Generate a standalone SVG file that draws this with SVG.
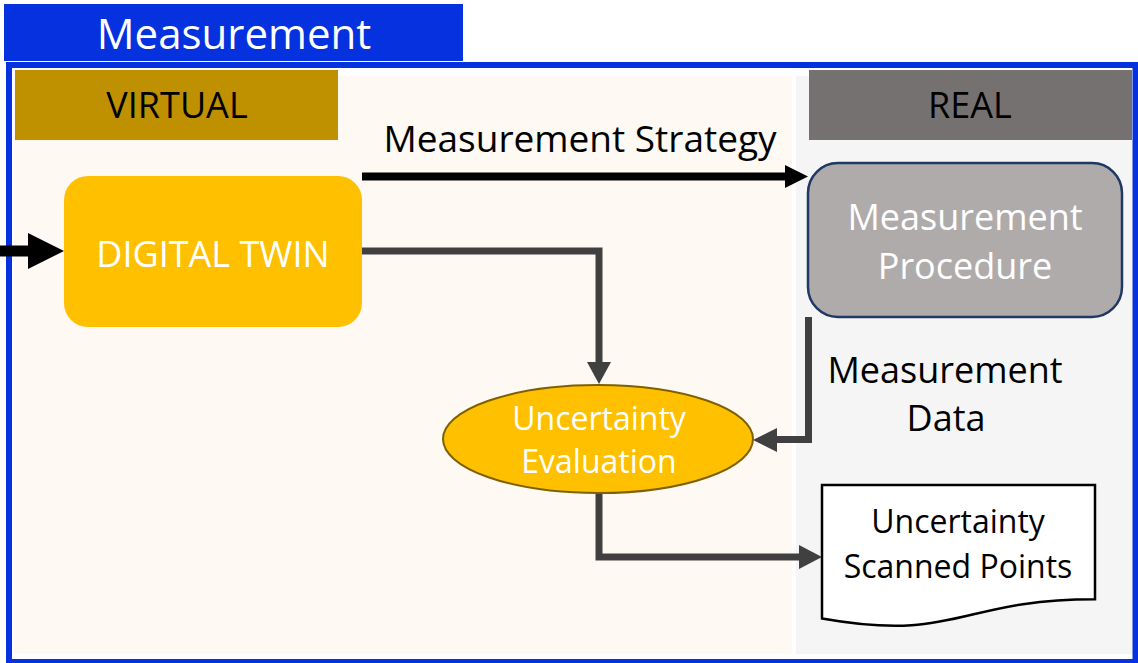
<svg xmlns="http://www.w3.org/2000/svg" width="1138" height="663" viewBox="0 0 1138 663">
  <defs>
    <style>
      .t { font-family: "Open Sans", "Noto Sans", "Liberation Sans", sans-serif; text-anchor: middle; }
      .w { fill: #FFFFFF; }
      .k { fill: #000000; }
      .conn { fill: none; stroke: #404040; stroke-width: 7; stroke-linejoin: miter; }
      .head { fill: #404040; }
    </style>
  </defs>

  <!-- page background -->
  <rect x="0" y="0" width="1138" height="663" fill="#FFFFFF"/>

  <!-- section title -->
  <g id="title">
    <rect x="4" y="4" width="459" height="57" fill="#0531DE"/>
    <text class="t w" x="234" y="49" font-size="42">Measurement</text>
  </g>

  <!-- outer frame and the two domains -->
  <g id="frame">
    <rect x="9" y="65" width="1126.5" height="597" fill="#FFFFFF" stroke="#0531DE" stroke-width="6"/>
    <rect x="14" y="76" width="778" height="578" fill="#FEF9F2"/>
    <rect x="796" y="76" width="336" height="578" fill="#F5F5F5"/>
  </g>

  <g id="virtual-header">
    <rect x="15" y="70" width="323" height="70" fill="#BF9000"/>
    <text class="t k" x="177" y="118" font-size="36">VIRTUAL</text>
  </g>

  <g id="real-header">
    <rect x="809" y="70" width="323" height="70" fill="#767171"/>
    <text class="t k" x="970" y="118" font-size="36">REAL</text>
  </g>

  <!-- connectors -->
  <g id="connectors">
    <!-- incoming arrow into the digital twin -->
    <line x1="0" y1="251" x2="32" y2="251" stroke="#000000" stroke-width="11"/>
    <polygon points="28,233 28,269 64,251" fill="#000000"/>

    <!-- measurement strategy -->
    <line x1="362" y1="176.5" x2="788" y2="176.5" stroke="#000000" stroke-width="8"/>
    <polygon points="785,165 785,188 808,176.5" fill="#000000"/>
    <text class="t k" x="580" y="152" font-size="37">Measurement Strategy</text>

    <!-- digital twin to uncertainty evaluation -->
    <path class="conn" d="M362,251 H599 V364"/>
    <polygon class="head" points="587,362 611,362 599,384"/>

    <!-- measurement data -->
    <path class="conn" d="M808.5,317 V439.5 H775"/>
    <polygon class="head" points="777,428 777,452 753,440"/>
    <text class="t k" x="945" y="383" font-size="36">Measurement</text>
    <text class="t k" x="946" y="431" font-size="36">Data</text>

    <!-- evaluation to scanned points -->
    <path class="conn" d="M599,493 V557 H801"/>
    <polygon class="head" points="799,545 799,569 822,557"/>
  </g>

  <g id="digital-twin">
    <rect x="64" y="176" width="298" height="151" rx="24" ry="24" fill="#FFC000"/>
    <text class="t w" x="213" y="267" font-size="36">DIGITAL TWIN</text>
  </g>

  <g id="measurement-procedure">
    <rect x="808" y="163" width="314" height="154" rx="30" ry="30" fill="#AFABAB" stroke="#1F3864" stroke-width="2.5"/>
    <text class="t w" x="965" y="230" font-size="36">Measurement</text>
    <text class="t w" x="965" y="279" font-size="36">Procedure</text>
  </g>

  <g id="uncertainty-evaluation">
    <ellipse cx="598" cy="439" rx="155" ry="54" fill="#FFC000" stroke="#7F6000" stroke-width="2"/>
    <text class="t w" x="599" y="430" font-size="32">Uncertainty</text>
    <text class="t w" x="599" y="473" font-size="32">Evaluation</text>
  </g>

  <g id="scanned-points">
    <path d="M822,485 H1095 V599.2 C958.5,599.2 958.5,642.7 822,618.5 Z" fill="#FFFFFF" stroke="#000000" stroke-width="2.5" stroke-linejoin="miter"/>
    <text class="t k" x="958" y="533" font-size="32">Uncertainty</text>
    <text class="t k" x="958" y="578" font-size="32">Scanned Points</text>
  </g>
</svg>
